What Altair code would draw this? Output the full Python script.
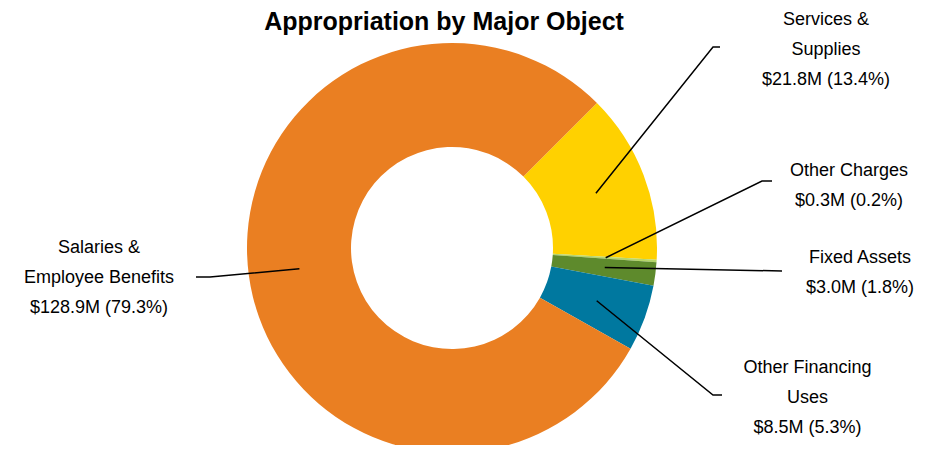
import math
import altair as alt
import pandas as pd

# ---- data ----
categories = ["Services & Supplies", "Other Charges", "Fixed Assets",
              "Other Financing Uses", "Salaries & Employee Benefits"]
values = [21.8, 0.3, 3.0, 8.5, 128.9]
label_texts = ["Services &\nSupplies\n$21.8M (13.4%)",
               "Other Charges\n$0.3M (0.2%)",
               "Fixed Assets\n$3.0M (1.8%)",
               "Other Financing\nUses\n$8.5M (5.3%)",
               "Salaries &\nEmployee Benefits\n$128.9M (79.3%)"]
colors = ["#FFD100", "#B5D56A", "#5E8A2C", "#00789F", "#EA7F22"]

# ---- layout (chart pixel space; page minus 8px margin) ----
W, H = 914, 437
CX, CY = 444, 240
R_OUT, R_IN = 205, 101
START = math.pi / 4
R_LEAD = 154
label_x = [818, 841, 852, 799.5, 91]
label_y = [12, 163, 250, 360, 240]
elbow_x = [705, 754, 774, 705, 202]
elbow_y = [39, 173, 263, 387, 269]
end_x = [712, 764, 774, 714, 188]
end_y = [39, 173, 263, 387, 269]

df = pd.DataFrame({"cat": categories, "value": values, "idx": range(len(values)),
                   "label": label_texts, "lx": label_x, "ly": label_y})

total = sum(values)
cum = 0.0
rows = []
for i, v in enumerate(values):
    mid = START + 2 * math.pi * (cum + v / 2) / total
    cum += v
    px = CX + R_LEAD * math.sin(mid)
    py = CY - R_LEAD * math.cos(mid)
    pts = [(px, py), (elbow_x[i], elbow_y[i]), (end_x[i], end_y[i])]
    for k, (x, y) in enumerate(pts):
        rows.append({"cat": categories[i], "k": k, "x": x, "y": y})
lead = pd.DataFrame(rows)

color_scale = alt.Scale(domain=categories, range=colors)

arcs = alt.Chart(df).mark_arc(outerRadius=R_OUT, innerRadius=R_IN, stroke=None).encode(
    theta=alt.Theta("value:Q", stack=True,
                    scale=alt.Scale(range=[START, START + 2 * math.pi])),
    order=alt.Order("idx:Q"),
    color=alt.Color("cat:N", scale=color_scale, legend=None),
    x=alt.value(CX), y=alt.value(CY),
)

lines = alt.Chart(lead).mark_line(color="black", strokeWidth=1.5).encode(
    x=alt.X("x:Q", scale=None), y=alt.Y("y:Q", scale=None),
    detail="cat:N", order="k:Q",
)

labels = alt.Chart(df).mark_text(
    lineBreak="\n", lineHeight=30, font="Liberation Sans", fontSize=18,
    align="center", baseline="middle", color="black",
).encode(x=alt.X("lx:Q", scale=None), y=alt.Y("ly:Q", scale=None), text="label:N")

title = alt.Chart(pd.DataFrame({"t": ["Appropriation by Major Object"]})).mark_text(
    font="Liberation Sans", fontSize=25, fontWeight="bold", align="center",
    baseline="alphabetic", color="black",
).encode(x=alt.value(436), y=alt.value(22), text="t:N")

chart = alt.layer(arcs, lines, labels, title).properties(
    width=W, height=H, autosize=alt.AutoSizeParams(type="none"), padding=0
).configure_view(stroke=None)

chart.save("out.html", embed_options={"renderer": "svg", "actions": False})
